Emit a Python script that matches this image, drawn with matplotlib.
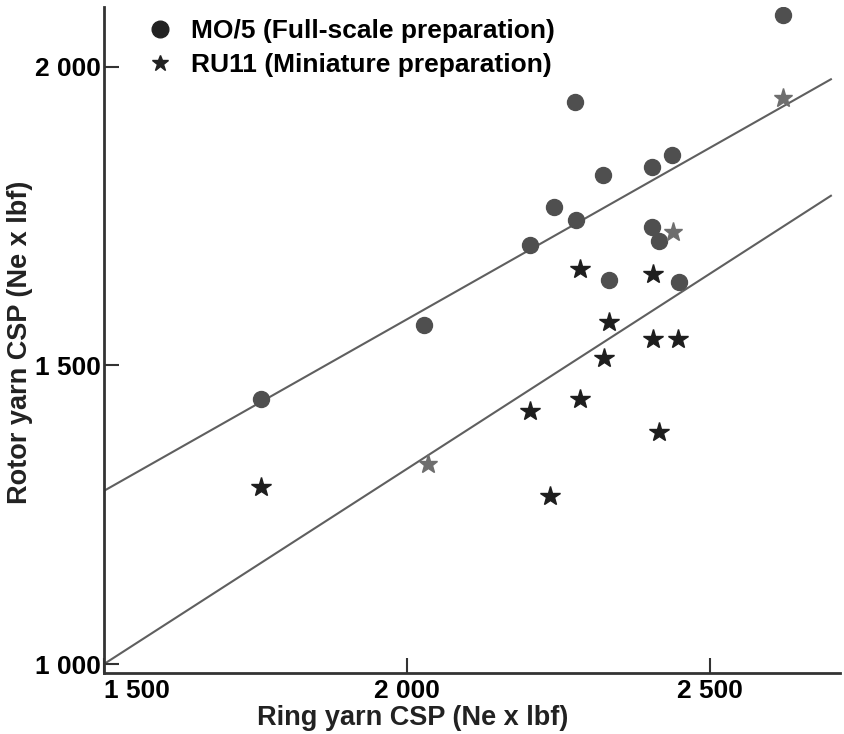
import numpy as np
import matplotlib
matplotlib.use("Agg")
import matplotlib.pyplot as plt
from matplotlib.lines import Line2D

# MO/5 full-scale preparation (circles)
mo5_ring = [1760, 2028, 2204, 2243, 2278, 2280, 2324, 2333, 2404, 2437, 2404, 2417, 2449, 2621]
mo5_rotor = [1444, 1567, 1702, 1766, 1941, 1744, 1818, 1643, 1832, 1852, 1732, 1709, 1640, 2086]

# RU11 miniature preparation (stars), dark ones
ru11_ring = [1760, 2204, 2237, 2285, 2285, 2326, 2333, 2407, 2407, 2447, 2416]
ru11_rotor = [1296, 1423, 1281, 1443, 1662, 1512, 1572, 1653, 1544, 1545, 1389]
# lighter printed stars
ru11_light_ring = [2035, 2439, 2621]
ru11_light_rotor = [1335, 1724, 1948]

# fitted lines, values at the two ends
line_x = [1500, 2700]
upper_line = [1290, 1979]
lower_line = [1000, 1784]

xticks = [1500, 2000, 2500]
xtick_labels = ["1 500", "2 000", "2 500"]
yticks = [1000, 1500, 2000]
ytick_labels = ["1 000", "1 500", "2 000"]

plt.rcParams['font.family'] = ['Liberation Sans', 'DejaVu Sans']
plt.rcParams['font.weight'] = 'bold'
fs = 19
lfs = 19.5

fig = plt.figure(figsize=(8.44, 7.34), dpi=100)
ax = fig.add_axes([104/844, 1-673/734, 736/844, 666/734])

ax.plot(line_x, upper_line, color='#5f5f5f', lw=1.5, zorder=1)
ax.plot(line_x, lower_line, color='#5f5f5f', lw=1.5, zorder=1)

ax.plot(mo5_ring, mo5_rotor, 'o', color='#4f4f4f', ms=11.5, mec='#4f4f4f', zorder=3)
ax.plot(ru11_ring, ru11_rotor, '*', color='#1e1e1e', ms=15, zorder=3)
ax.plot(ru11_light_ring, ru11_light_rotor, '*', color='#6e6e6e', ms=14, zorder=3)

ax.set_xlim(1500, 2715)
ax.set_ylim(985, 2100)

ax.set_xticks(xticks)
ax.set_xticklabels(xtick_labels, fontsize=fs, fontweight='bold')
ax.get_xticklabels()[0].set_horizontalalignment('left')
ax.set_yticks(yticks)
ax.set_yticklabels(ytick_labels, fontsize=fs, fontweight='bold')
ax.tick_params(axis='both', direction='in', length=11, width=1.5, color='#333333')
ax.tick_params(axis='x', pad=4)
ax.tick_params(axis='y', pad=2)

for s in ['top', 'right']:
    ax.spines[s].set_visible(False)
for s in ['left', 'bottom']:
    ax.spines[s].set_linewidth(2)
    ax.spines[s].set_color('#333333')

ax.set_xlabel("Ring yarn CSP (Ne x lbf)", fontsize=lfs, fontweight='bold', color='#222222')
ax.xaxis.set_label_coords(0.42, -0.048)
ax.set_ylabel("Rotor yarn CSP (Ne x lbf)", fontsize=lfs, fontweight='bold', color='#222222')
ax.yaxis.set_label_coords(-0.097, 0.497)

handles = [
    Line2D([], [], marker='o', ls='', color='#222222', ms=12),
    Line2D([], [], marker='*', ls='', color='#222222', ms=12),
]
ax.legend(handles, ["MO/5 (Full-scale preparation)", "RU11 (Miniature preparation)"],
          loc='upper left', bbox_to_anchor=(0.022, 1.018), frameon=False,
          prop={'size': fs, 'weight': 'bold'}, handletextpad=0.6, labelspacing=0.4,
          handlelength=1.2)

fig.savefig("out.png", dpi=100)
